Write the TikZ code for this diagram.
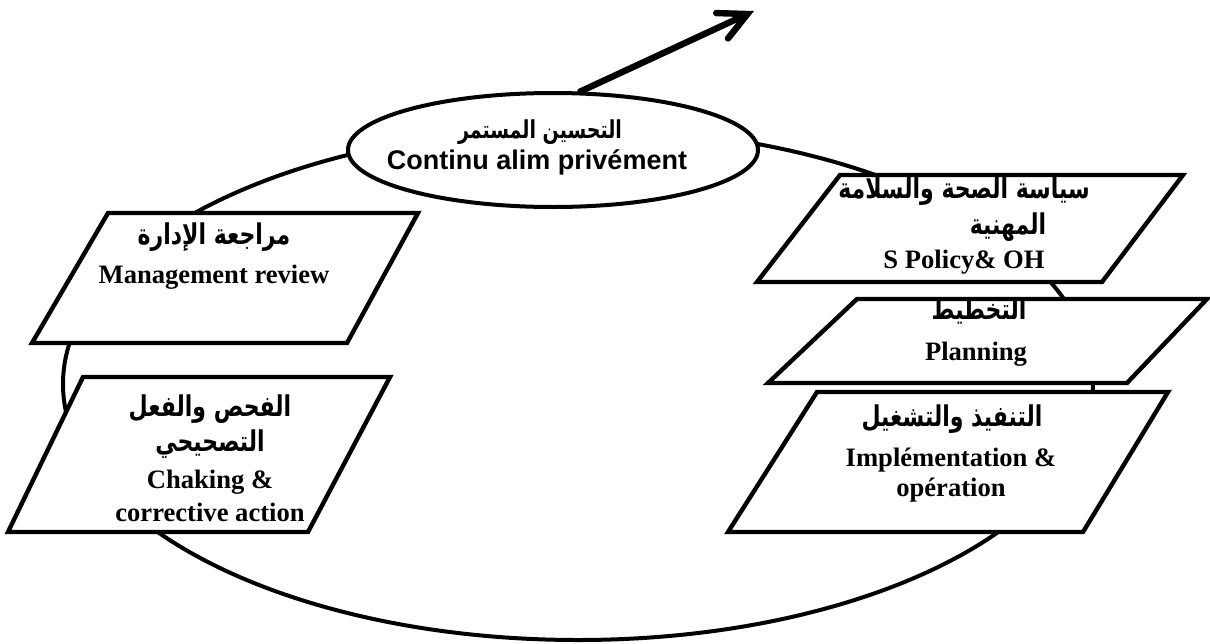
\documentclass[tikz,border=0pt]{standalone}
\usepackage{graphicx}
\usepackage{fontspec}
\setmainfont{Liberation Serif}
\newfontfamily\arialfont{Liberation Sans}
\newfontfamily\arabicfont[Script=Arabic]{DejaVu Sans}
\TeXXeTstate=1
\newcommand{\arline}[1]{\scalebox{1}[1.3]{\beginR #1\endR}}
\usetikzlibrary{shapes.geometric,arrows.meta}

\begin{document}
\begin{tikzpicture}[x=0.5pt,y=-0.5pt,
    ring/.style={draw,line width=2pt},
    stepbox/.style={draw,fill=white,line width=2.2pt,line join=miter},
    goal node/.style={ellipse,draw,fill=white,line width=2pt,
        minimum width=205pt,minimum height=57pt,inner sep=0pt},
    ar/.style={font=\arabicfont\bfseries\fontsize{11}{13}\selectfont,inner sep=0pt},
    en/.style={font=\bfseries\fontsize{13.3}{15}\selectfont,inner sep=0pt},
    aim/.style={line width=3.2pt,line cap=round,
        -{Straight Barb[length=14pt,width=14pt,line cap=round]}}]

  \useasboundingbox (0,0) rectangle (1210,643);

  \draw[ring] (578,384) ellipse [x radius=257.5pt,y radius=128pt];

  \draw[stepbox] (840,175) -- (1183,175) -- (1102,282) -- (757,282) -- cycle;
  \draw[stepbox] (857,299) -- (1207,299) -- (1127,383) -- (768,383) -- cycle;
  \draw[stepbox] (817,392) -- (1168,392) -- (1083,532) -- (728,532) -- cycle;
  \draw[stepbox] (108,213) -- (418,213) -- (347,343) -- (32,343) -- cycle;
  \draw[stepbox] (83,377) -- (390,377) -- (308,532) -- (8,532) -- cycle;

  \node[goal node] (goal) at (553,150) {};
  \coordinate (aimTip) at (754,11);
  \draw[aim] (goal.65) -- (aimTip);

  \node[ar,font=\arabicfont\bfseries\fontsize{9.5}{11}\selectfont] (goalAr) at (540,132) {\arline{التحسين المستمر}};
  \node[en,font=\arialfont\bfseries\fontsize{13.5}{15}\selectfont] (goalEn) at (537,162) {Continu alim privément};

  \node[ar] (policyAr) at (964,191) {\arline{سياسة الصحة والسلامة}};
  \node[ar] (policyAr2) at (1008,227) {\arline{المهنية}};
  \node[en] (policyEn) at (964,262) {S Policy\& OH};

  \node[ar] (planAr) at (979,311) {\arline{التخطيط}};
  \node[en] (planEn) at (976,354) {Planning};

  \node[ar] (implAr) at (952,419) {\arline{التنفيذ والتشغيل}};
  \node[en] (implEn) at (951,460) {Implémentation \&};
  \node[en] (implEn2) at (951,490) {opération};

  \node[ar] (reviewAr) at (214,237) {\arline{مراجعة الإدارة}};
  \node[en] (reviewEn) at (214,277) {Management review};

  \node[ar] (checkAr) at (210,409) {\arline{الفحص والفعل}};
  \node[ar] (checkAr2) at (210,444) {\arline{التصحيحي}};
  \node[en] (checkEn) at (210,482) {Chaking \&};
  \node[en] (checkEn2) at (210,512) {corrective action};
\end{tikzpicture}
\end{document}
